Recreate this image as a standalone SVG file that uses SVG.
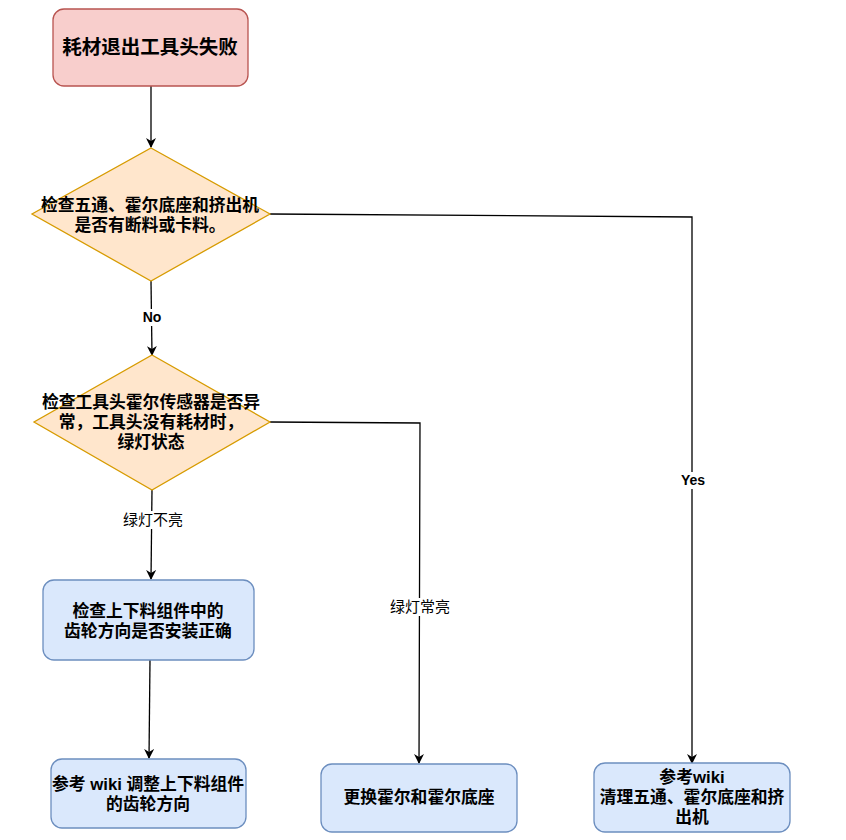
<svg xmlns="http://www.w3.org/2000/svg" width="846" height="840" viewBox="0 0 846 840">
<defs>
<marker id="arr" viewBox="0 0 10 10" refX="9" refY="5" markerWidth="10" markerHeight="10" markerUnits="userSpaceOnUse" orient="auto">
<path d="M0,0 L10,5 L0,10 L3,5 Z" fill="#000"/>
</marker>
<style>
.t{font-family:"Liberation Sans","Noto Sans CJK SC",sans-serif;font-weight:bold;font-size:16.8px;fill:#000;text-anchor:middle}
.big{font-size:19.5px}
.lbl{font-family:"Liberation Sans","Noto Sans CJK SC",sans-serif;font-size:15px;fill:#000;text-anchor:middle}
.lb{font-weight:bold;font-size:14px}
.e{fill:none;stroke:#000;stroke-width:1.3;marker-end:url(#arr)}
.red{fill:#f8cecc;stroke:#b85450;stroke-width:1.3}
.org{fill:#ffe6cc;stroke:#d79b00;stroke-width:1.3}
.blu{fill:#dae8fc;stroke:#6c8ebf;stroke-width:1.3}
.bg{fill:#fff}
</style>
</defs>
<rect width="846" height="840" fill="#fff"/>
<g id="connectors">
<path class="e" d="M151,86 L151,147"/>
<path class="e" d="M151,281 L152,355"/>
<path class="e" d="M152,490 L151,579"/>
<path class="e" d="M150,660 L149,758"/>
<path class="e" d="M270,422 L420,423 L419,763"/>
<path class="e" d="M270,214 L692,217 L692,763"/>
<rect class="bg" x="139" y="309" width="27" height="17"/>
<text class="lbl lb" x="152" y="322">No</text>
<rect class="bg" x="120" y="511" width="66" height="18"/>
<text class="lbl" x="153" y="525">绿灯不亮</text>
<rect class="bg" x="388" y="598" width="64" height="18"/>
<text class="lbl" x="420" y="612">绿灯常亮</text>
<rect class="bg" x="676" y="472" width="34" height="17"/>
<text class="lbl lb" x="693" y="485">Yes</text>
</g>
<g id="n1">
<rect class="red" x="53" y="9" width="195" height="77" rx="11"/>
<text class="t big" x="150" y="54">耗材退出工具头失败</text>
</g>
<g id="n2">
<polygon class="org" points="151,148 270,214 151,281 32,214"/>
<text class="t" x="150" y="211">检查五通、霍尔底座和挤出机</text>
<text class="t" x="150" y="231">是否有断料或卡料。</text>
</g>
<g id="n3">
<polygon class="org" points="152,355 270,422 152,490 34,422"/>
<text class="t" x="151" y="408">检查工具头霍尔传感器是否异</text>
<text class="t" x="151" y="428">常，工具头没有耗材时，</text>
<text class="t" x="151" y="448">绿灯状态</text>
</g>
<g id="n4">
<rect class="blu" x="43" y="580" width="211" height="80" rx="11"/>
<text class="t" x="148" y="617">检查上下料组件中的</text>
<text class="t" x="148" y="637">齿轮方向是否安装正确</text>
</g>
<g id="n5">
<rect class="blu" x="51" y="759" width="195" height="69" rx="11"/>
<text class="t" x="148" y="790">参考 wiki 调整上下料组件</text>
<text class="t" x="148" y="810">的齿轮方向</text>
</g>
<g id="n6">
<rect class="blu" x="321" y="764" width="196" height="68" rx="11"/>
<text class="t" x="419" y="803">更换霍尔和霍尔底座</text>
</g>
<g id="n7">
<rect class="blu" x="594" y="763" width="196" height="69" rx="11"/>
<text class="t" x="692" y="783">参考wiki</text>
<text class="t" x="692" y="803">清理五通、霍尔底座和挤</text>
<text class="t" x="692" y="823">出机</text>
</g>
</svg>
